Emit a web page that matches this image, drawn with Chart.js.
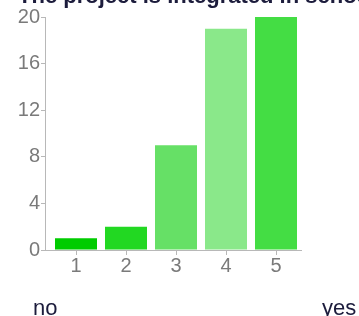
<!DOCTYPE html>
<html>
<head>
<meta charset="utf-8">
<script src="https://cdn.jsdelivr.net/npm/chart.js@4"></script>
<style>
	html, body { margin: 0; padding: 0; background: #fff; }
	#wrap { width: 359px; height: 316px; position: relative; }
</style>
</head>
<body>
<div id="wrap"><canvas id="scaleChart"></canvas></div>
<script>
const categories = ['1', '2', '3', '4', '5'];
const responses = [1, 2, 9, 19, 20];
const barColors = ['#00cc00', '#22d822', '#66e066', '#8ae88a', '#44dd44'];
const yTicks = [0, 4, 8, 12, 16, 20];
const titleText = 'The project is integrated in school';
const lowLabel = 'no';
const highLabel = 'yes';

// title and the no / yes end labels
const extraText = {
	id: 'extraText',
	afterDraw(chart) {
		const c = chart.ctx;
		c.save();
		c.fillStyle = '#1c1c3c';
		c.textBaseline = 'alphabetic';
		c.textAlign = 'left';
		c.font = 'bold 22px "Liberation Sans", Arial, sans-serif';
		c.fillText(titleText, 18, 3);
		c.font = '22px "Liberation Sans", Arial, sans-serif';
		c.fillText(lowLabel, 33, 315);
		c.fillText(highLabel, 322, 315);
		c.restore();
	}
};

const ctx = document.getElementById('scaleChart').getContext('2d');
const scaleChart = new Chart(ctx, {
	type: 'bar',
	data: {
	datasets: [{
		data: categories.map((c, i) => ({ x: Number(c), y: responses[i] })),
		backgroundColor: barColors,
		barPercentage: 0.84,
		categoryPercentage: 1.0
	}]
	},
	options: {
	animation: false,
	responsive: true,
	maintainAspectRatio: false,
	layout: { padding: { top: 17, right: 58, left: 0, bottom: 0 } },
	scales: {
		x: {
			type: 'linear',
			min: 0.38,
			max: 5.5,
			offset: false,
			afterBuildTicks(scale) { scale.ticks = categories.map(c => ({ value: Number(c) })); },
			grid: { offset: false, drawOnChartArea: false, tickLength: 5, color: '#b8b8b8' },
			border: { color: '#b8b8b8' },
			ticks: { color: '#7a7a7a', padding: -1, font: { family: '"Liberation Sans", Arial', size: 20 } },
			afterFit(scale) { scale.height = 66; }
		},
		y: {
			min: 0,
			max: 20,
			afterBuildTicks(scale) { scale.ticks = yTicks.map(v => ({ value: v })); },
			grid: { drawOnChartArea: false, tickLength: 4, color: '#b8b8b8' },
			border: { color: '#b8b8b8' },
			ticks: { color: '#7a7a7a', padding: 1, font: { family: '"Liberation Sans", Arial', size: 20 } },
			afterFit(scale) { scale.width = 45; }
		}
	},
	plugins: {
		legend: { display: false },
		tooltip: { enabled: false }
	}
	},
	plugins: [extraText]
});
</script>
</body>
</html>
